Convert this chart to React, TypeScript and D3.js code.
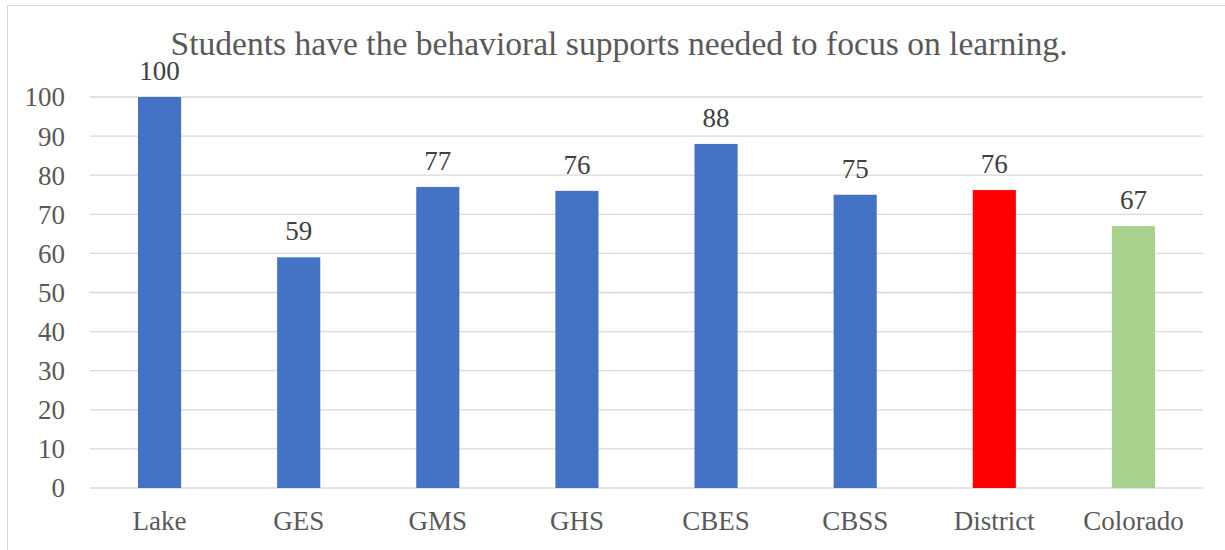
import React from "react";
import * as d3 from "d3";

const categories = ["Lake", "GES", "GMS", "GHS", "CBES", "CBSS", "District", "Colorado"];
const values = [100, 59, 77, 76, 88, 75, 76.2, 67];
const labels = ["100", "59", "77", "76", "88", "75", "76", "67"];
const colors = ["#4472C4", "#4472C4", "#4472C4", "#4472C4", "#4472C4", "#4472C4", "#FF0000", "#A9D18E"];
const yTicks = [0, 10, 20, 30, 40, 50, 60, 70, 80, 90, 100];
const title = "Students have the behavioral supports needed to focus on learning.";

export default function App() {
  const W = 1225, H = 550;
  const left = 90, right = 1203, top = 97, bottom = 488;
  const x = d3.scaleBand<string>().domain(categories).range([left, right]).paddingInner(0.69).paddingOuter(0.345);
  const y = d3.scaleLinear().domain([0, 100]).range([bottom, top]);
  const font = "'Liberation Serif', 'Times New Roman', serif";
  const textColor = "#595959";
  return (
    <div style={{ position: "absolute", left: 0, top: 0 }}>
      <svg width={W} height={H} style={{ display: "block", fontFamily: font }}>
        <rect x={0} y={0} width={W} height={H} fill="#fff" />
        <rect x={7.5} y={5.5} width={W + 20} height={H + 20} fill="none" stroke="#d9d9d9" strokeWidth={1} />
        <text x={619} y={55} textAnchor="middle" fontSize={33.6} fill={textColor}>{title}</text>
        {yTicks.map((t) => (
          <g key={t}>
            <line x1={left} x2={right} y1={y(t)} y2={y(t)} stroke="#d9d9d9" strokeWidth={1.3} />
            <text x={65} y={y(t)} dy="0.35em" textAnchor="end" fontSize={27} fill={textColor}>{t}</text>
          </g>
        ))}
        {categories.map((c, i) => (
          <g key={c}>
            <rect x={x(c)} y={y(values[i])} width={x.bandwidth()} height={y(0) - y(values[i])} fill={colors[i]} />
            <text x={(x(c) as number) + x.bandwidth() / 2} y={y(values[i]) - 17} textAnchor="middle" fontSize={27} fill="#404040">{labels[i]}</text>
            <text x={(x(c) as number) + x.bandwidth() / 2} y={530} textAnchor="middle" fontSize={27} fill={textColor}>{c}</text>
          </g>
        ))}
      </svg>
    </div>
  );
}
